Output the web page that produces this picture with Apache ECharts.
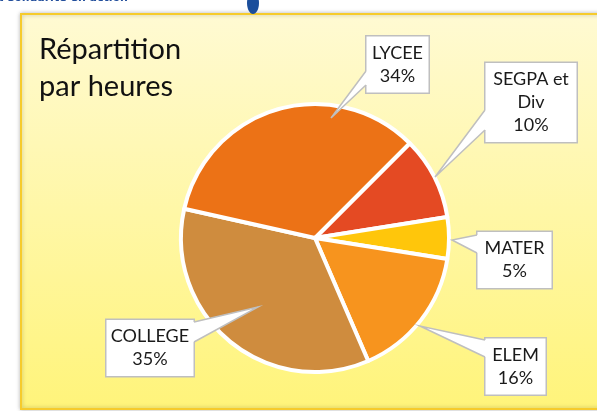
<!DOCTYPE html>
<html>
<head>
<meta charset="utf-8">
<script src="https://cdn.jsdelivr.net/npm/echarts@6/dist/echarts.min.js"></script>
<style>
  html, body { margin: 0; padding: 0; background: #fff; }
  #chart { width: 597px; height: 411px; }
</style>
</head>
<body>
<div id="chart"></div>
<script>
// données (ordre horaire à partir de SEGPA)
var categories = ['SEGPA et\nDiv', 'MATER', 'ELEM', 'COLLEGE', 'LYCEE'];
var heures = [10, 5, 16, 35, 34];
var couleurs = ['#E44A23', '#FFC60B', '#F7941E', '#CF8C3E', '#EC7216'];

// position des étiquettes (boîte) : centre x, centre y, largeur
var boites = [
  [531, 102.5, 92],
  [514.5, 260, 75],
  [515.5, 366.5, 61],
  [150, 348, 88],
  [397.5, 64.5, 63]
];
// pointes des bulles : pointe, base haut, base bas, sens vers l'intérieur de la boîte
var bulles = [
  [[435, 177], [485, 110], [485, 130], 1],
  [[452, 240], [477, 235], [477, 253], 1],
  [[420, 326], [485, 340], [485, 357], 1],
  [[258, 307], [194, 322], [194, 342], -1],
  [[331, 118], [366, 71], [366, 85], 1]
];

var FONT = 'Lato, "Noto Sans", sans-serif';

var data = categories.map(function (c, i) {
  return {
    name: c,
    value: heures[i],
    itemStyle: { color: couleurs[i] },
    label: { width: boites[i][2] - 1 }
  };
});

var graphics = [
  {
    type: 'rect',
    shape: { x: 21, y: 14, width: 600, height: 395 },
    style: {
      fill: {
        type: 'linear', x: 0, y: 0, x2: 0, y2: 1,
        colorStops: [
          { offset: 0, color: '#FFFAD3' },
          { offset: 1, color: '#FFF47A' }
        ]
      },
      stroke: '#F6CB2C',
      lineWidth: 2,
      shadowBlur: 4,
      shadowColor: 'rgba(0,0,0,0.25)'
    },
    z: -10
  },
  {
    type: 'text',
    left: -3, top: -7,
    style: {
      text: 'a solidarité en action',
      font: 'italic bold 11px "DejaVu Sans", sans-serif',
      fill: '#234F9C'
    },
    z: -5
  },
  {
    type: 'ellipse',
    shape: { cx: 253, cy: 3, rx: 6, ry: 11 },
    style: { fill: '#1B4E9B' },
    z: -5
  },
  {
    type: 'text',
    left: 39, top: 31,
    style: {
      text: 'Répartition\npar heures',
      font: '29px ' + FONT,
      lineHeight: 37,
      fill: '#111'
    }
  }
];

// bulles des étiquettes
bulles.forEach(function (b) {
  var tip = b[0], t = b[1], bt = b[2], d = b[3];
  graphics.push({
    type: 'polygon',
    shape: { points: [t, tip, bt, [bt[0] + 3 * d, bt[1]], [t[0] + 3 * d, t[1]]] },
    style: { fill: '#fff' },
    z: 20
  });
  graphics.push({
    type: 'polyline',
    shape: { points: [t, tip, bt] },
    style: { stroke: '#BFBFBF', lineWidth: 1.5, fill: null },
    z: 21
  });
});

var chart = echarts.init(document.getElementById('chart'));
chart.setOption({
  animation: false,
  graphic: graphics,
  series: [{
    type: 'pie',
    center: [315, 238],
    radius: 134,
    startAngle: 45,
    clockwise: true,
    percentPrecision: 0,
    data: data,
    itemStyle: { borderColor: '#fff', borderWidth: 4 },
    label: {
      show: true,
      position: 'outside',
      formatter: '{b}\n{d}%',
      fontFamily: FONT,
      fontSize: 18,
      lineHeight: 23,
      color: '#1a1a1a',
      align: 'center',
      backgroundColor: '#fff',
      borderColor: '#BFBFBF',
      borderWidth: 1.5,
      padding: [5, 0]
    },
    labelLine: { show: false },
    labelLayout: function (p) {
      var b = boites[p.dataIndex];
      return { x: b[0], y: b[1], align: 'center', verticalAlign: 'middle' };
    },
    emphasis: { disabled: true }
  }]
});
</script>
</body>
</html>
